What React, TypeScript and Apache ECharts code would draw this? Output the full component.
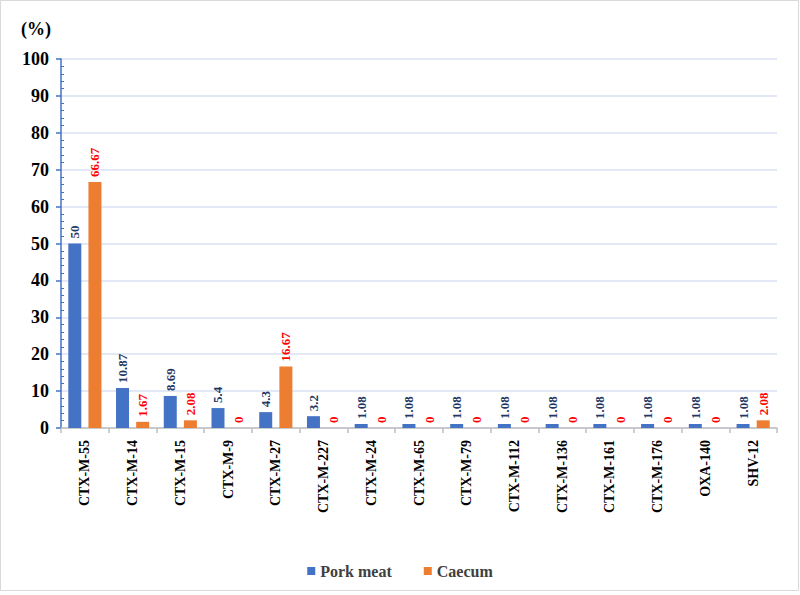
import React, { useEffect, useRef } from "react";
import * as echarts from "echarts";

const categories = [
  "CTX-M-55", "CTX-M-14", "CTX-M-15", "CTX-M-9", "CTX-M-27", "CTX-M-227",
  "CTX-M-24", "CTX-M-65", "CTX-M-79", "CTX-M-112", "CTX-M-136", "CTX-M-161",
  "CTX-M-176", "OXA-140", "SHV-12",
];
const porkMeat = [50, 10.87, 8.69, 5.4, 4.3, 3.2, 1.08, 1.08, 1.08, 1.08, 1.08, 1.08, 1.08, 1.08, 1.08];
const caecum = [66.67, 1.67, 2.08, 0, 16.67, 0, 0, 0, 0, 0, 0, 0, 0, 0, 2.08];
const yTicks = { min: 0, max: 100, interval: 10 };

const SERIF = "'Liberation Serif', 'Times New Roman', serif";

export default function App() {
  const ref = useRef<HTMLDivElement>(null);
  useEffect(() => {
    if (!ref.current) return;
    const chart = echarts.init(ref.current, undefined, { renderer: "svg" });
    const labelBase = {
      show: true,
      position: "top" as const,
      rotate: 90,
      align: "left" as const,
      verticalAlign: "middle" as const,
      distance: 5,
      fontFamily: SERIF,
      fontWeight: "bold" as const,
      fontSize: 13,
    };
    chart.setOption({
      animation: false,
      backgroundColor: "#ffffff",
      graphic: [
        {
          type: "rect",
          shape: { x: 0.5, y: 0.5, width: 798, height: 590 },
          style: { fill: "none", stroke: "#d9d9d9", lineWidth: 1 },
          silent: true,
        },
        {
          type: "text",
          left: 21,
          top: 20,
          style: {
            text: "(%)",
            font: `bold 18px ${SERIF}`,
            fill: "#000000",
          },
        },
      ],
      grid: { left: 61, right: 23, top: 59, bottom: 167, containLabel: false },
      legend: {
        bottom: 11,
        left: "center",
        icon: "rect",
        itemWidth: 8,
        itemHeight: 8,
        itemGap: 32,
        textStyle: { fontFamily: SERIF, fontWeight: "bold", fontSize: 16, color: "#404040" },
        data: ["Pork meat", "Caecum"],
      },
      xAxis: {
        type: "category",
        data: categories,
        axisLine: { lineStyle: { color: "#bfbfbf", width: 1.5 } },
        axisTick: { show: true, length: 5, lineStyle: { color: "#bfbfbf", width: 1.5 } },
        axisLabel: {
          rotate: 90,
          interval: 0,
          margin: 12,
          fontFamily: SERIF,
          fontWeight: "bold",
          fontSize: 14,
          color: "#000000",
        },
      },
      yAxis: [
        {
          type: "value",
          position: "left",
          min: yTicks.min,
          max: yTicks.max,
          interval: yTicks.interval,
          axisLine: { show: true, lineStyle: { color: "#4472c4", width: 1.5 } },
          axisTick: { show: true, length: 5, lineStyle: { color: "#4472c4", width: 1.5 } },
          splitLine: { show: true, lineStyle: { color: "#d9e1f2", width: 1.5 } },
          axisLabel: {
            margin: 12,
            fontFamily: SERIF,
            fontWeight: "bold",
            fontSize: 18,
            color: "#000000",
          },
        },
        {
          type: "value",
          position: "left",
          offset: 0,
          min: yTicks.min,
          max: yTicks.max,
          interval: yTicks.interval,
          axisLine: { show: false },
          axisTick: { show: false, inside: true },
          minorTick: { show: true, splitNumber: 5, length: 3, lineStyle: { color: "#4472c4", width: 1 } },
          splitLine: { show: false },
          axisLabel: { show: false },
        },
      ],
      series: [
        {
          name: "Pork meat",
          type: "bar",
          data: porkMeat,
          barWidth: 13,
          barGap: "55%",
          itemStyle: { color: "#4472c4" },
          label: { ...labelBase, color: "#1f3864" },
        },
        {
          name: "Caecum",
          type: "bar",
          data: caecum,
          barWidth: 13,
          itemStyle: { color: "#ed7d31" },
          label: { ...labelBase, color: "#ff0000" },
        },
      ],
    });
    return () => chart.dispose();
  }, []);
  return (
    <div style={{ position: "absolute", left: 0, top: 0, width: 800, height: 595 }}>
      <div ref={ref} style={{ width: 800, height: 595 }} />
    </div>
  );
}
